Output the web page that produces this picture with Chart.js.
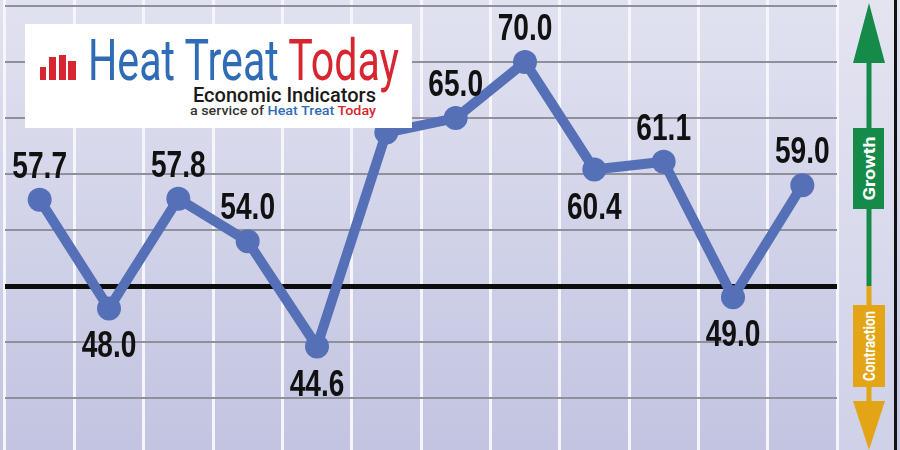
<!DOCTYPE html>
<html>
<head>
<meta charset="utf-8">
<script src="https://cdn.jsdelivr.net/npm/chart.js@4/dist/chart.umd.min.js"></script>
<style>
  html, body { margin: 0; padding: 0; background: #dcdcec; }
  #wrap { position: relative; width: 900px; height: 450px; overflow: hidden; }
  #chart { position: absolute; left: 0; top: 0; }
  #overlay { position: absolute; left: 0; top: 0; pointer-events: none; }
</style>
</head>
<body>
<div id="wrap">
  <canvas id="chart" width="900" height="450"></canvas>
  <svg id="overlay" width="900" height="450" viewBox="0 0 900 450">
    <defs>
      <linearGradient id="panelFill" x1="0" y1="0" x2="0" y2="1">
        <stop offset="0" stop-color="#e4e4f1"/>
        <stop offset="1" stop-color="#cfd1e8"/>
      </linearGradient>
    </defs>
    <!-- growth / contraction panel -->
    <rect x="839" y="0" width="55" height="450" fill="url(#panelFill)"/>
    <rect x="894" y="0" width="3" height="450" fill="#111"/>
    <rect x="866.5" y="58" width="5" height="228" fill="#168a48"/>
    <polygon points="869,3 885,63 853,63" fill="#168a48"/>
    <rect x="853" y="128" width="31" height="81" fill="#168a48"/>
    <text transform="translate(875,168.5) rotate(-90)" text-anchor="middle" fill="#fff"
          font-family="Roboto, 'DejaVu Sans'" font-weight="bold" font-size="17"
          textLength="64" lengthAdjust="spacingAndGlyphs">Growth</text>
    <rect x="866.5" y="286" width="5" height="120" fill="#e3a416"/>
    <rect x="853" y="305" width="32" height="82" fill="#e3a416"/>
    <text transform="translate(875,346) rotate(-90)" text-anchor="middle" fill="#fff"
          font-family="Roboto, 'DejaVu Sans'" font-weight="bold" font-size="16"
          textLength="70" lengthAdjust="spacingAndGlyphs">Contraction</text>
    <polygon points="853,401 885,401 869,450" fill="#e3a416"/>

    <!-- logo -->
    <rect x="25" y="24" width="387" height="104" fill="#ffffff"/>
    <rect x="40" y="67" width="6" height="13" fill="#d7262f"/>
    <rect x="49" y="57" width="7" height="23" fill="#d7262f"/>
    <rect x="59" y="55" width="7" height="25" fill="#d7262f"/>
    <rect x="68" y="61" width="8" height="19" fill="#d7262f"/>
    <text x="88" y="80" font-family="Roboto, 'DejaVu Sans'" font-size="58"
          textLength="311" lengthAdjust="spacingAndGlyphs"><tspan fill="#2f6cb5">Heat Treat </tspan><tspan fill="#d7262f">Today</tspan></text>
    <text x="193" y="102" font-family="Roboto, 'DejaVu Sans'" font-weight="500" font-size="21" fill="#1a1a1a"
          textLength="183" lengthAdjust="spacingAndGlyphs">Economic Indicators</text>
    <text x="190" y="115" font-family="Roboto, 'DejaVu Sans'" font-weight="500" font-size="12.5"
          textLength="186" lengthAdjust="spacingAndGlyphs"><tspan fill="#333">a service of </tspan><tspan fill="#2f6cb5">Heat Treat </tspan><tspan fill="#d7262f">Today</tspan></text>
  </svg>
</div>
<script>
// periods shown on the chart (no axis labels in the original)
const periods = ['1', '2', '3', '4', '5', '6', '7', '8', '9', '10', '11', '12'];
// index values, the sixth one sits behind the logo
const indexValues = [57.7, 48.0, 57.8, 54.0, 44.6, 63.7, 65.0, 70.0, 60.4, 61.1, 49.0, 59.0];
const hiddenLabel = 5; // label covered by the logo
// horizontal grid values; 50 is the growth / contraction line
const gridValues = [40, 45, 50, 55, 60, 65, 70, 75];
const neutralValue = 50;

const yMin = 35.36;
const yMax = 75.54;
const lineColor = '#5670b8';

const backgroundPlugin = {
  id: 'background',
  beforeDraw(chart) {
    const { ctx, width, height } = chart;
    const g = ctx.createLinearGradient(0, 0, 0, height);
    g.addColorStop(0, '#e1e2f0');
    g.addColorStop(1, '#c2c4e1');
    ctx.save();
    ctx.fillStyle = g;
    ctx.fillRect(0, 0, width, height);
    ctx.restore();
  },
};

function isLocalMin(i) {
  const v = indexValues[i];
  const prev = i > 0 ? indexValues[i - 1] : Infinity;
  const next = i < indexValues.length - 1 ? indexValues[i + 1] : Infinity;
  return v < prev && v < next;
}

const valueLabels = {
  id: 'valueLabels',
  afterDatasetsDraw(chart) {
    const { ctx } = chart;
    const meta = chart.getDatasetMeta(0);
    ctx.save();
    ctx.fillStyle = '#111';
    ctx.font = 'bold 37px "Liberation Sans", Arial, sans-serif';
    ctx.textAlign = 'center';
    ctx.textBaseline = 'alphabetic';
    meta.data.forEach((pt, i) => {
      if (i === hiddenLabel) return;
      const text = indexValues[i].toFixed(1);
      const below = isLocalMin(i);
      const baseY = below ? pt.y + 49 : pt.y - 22;
      ctx.save();
      ctx.translate(pt.x, baseY);
      ctx.scale(0.76, 1);
      ctx.fillText(text, 0, 0);
      ctx.restore();
    });
    ctx.restore();
  },
};

new Chart(document.getElementById('chart'), {
  type: 'line',
  data: {
    labels: periods,
    datasets: [
      {
        data: indexValues,
        borderColor: lineColor,
        backgroundColor: lineColor,
        borderWidth: 10,
        borderJoinStyle: 'round',
        borderCapStyle: 'round',
        pointRadius: 12,
        pointHoverRadius: 12,
        pointBackgroundColor: lineColor,
        pointBorderWidth: 0,
        tension: 0,
        fill: false,
      },
    ],
  },
  options: {
    responsive: false,
    animation: false,
    layout: { autoPadding: false, padding: { left: 5, right: 63, top: 0, bottom: 0 } },
    plugins: {
      legend: { display: false },
      tooltip: { enabled: false },
    },
    scales: {
      x: {
        offset: true,
        grid: {
          offset: true,
          color: '#f5f5fb',
          lineWidth: 3,
          drawTicks: false,
        },
        border: { display: false },
        ticks: { display: false, padding: 0 },
      },
      y: {
        min: yMin,
        max: yMax,
        afterBuildTicks(scale) {
          scale.ticks = gridValues.map((v) => ({ value: v }));
        },
        grid: {
          color: (c) => (c.tick && c.tick.value === neutralValue ? '#0d0d0d' : '#8f909c'),
          lineWidth: (c) => (c.tick && c.tick.value === neutralValue ? 5 : 2),
          drawTicks: false,
        },
        border: { display: false },
        ticks: { display: false, padding: 0 },
      },
    },
  },
  plugins: [backgroundPlugin, valueLabels],
});
</script>
</body>
</html>
